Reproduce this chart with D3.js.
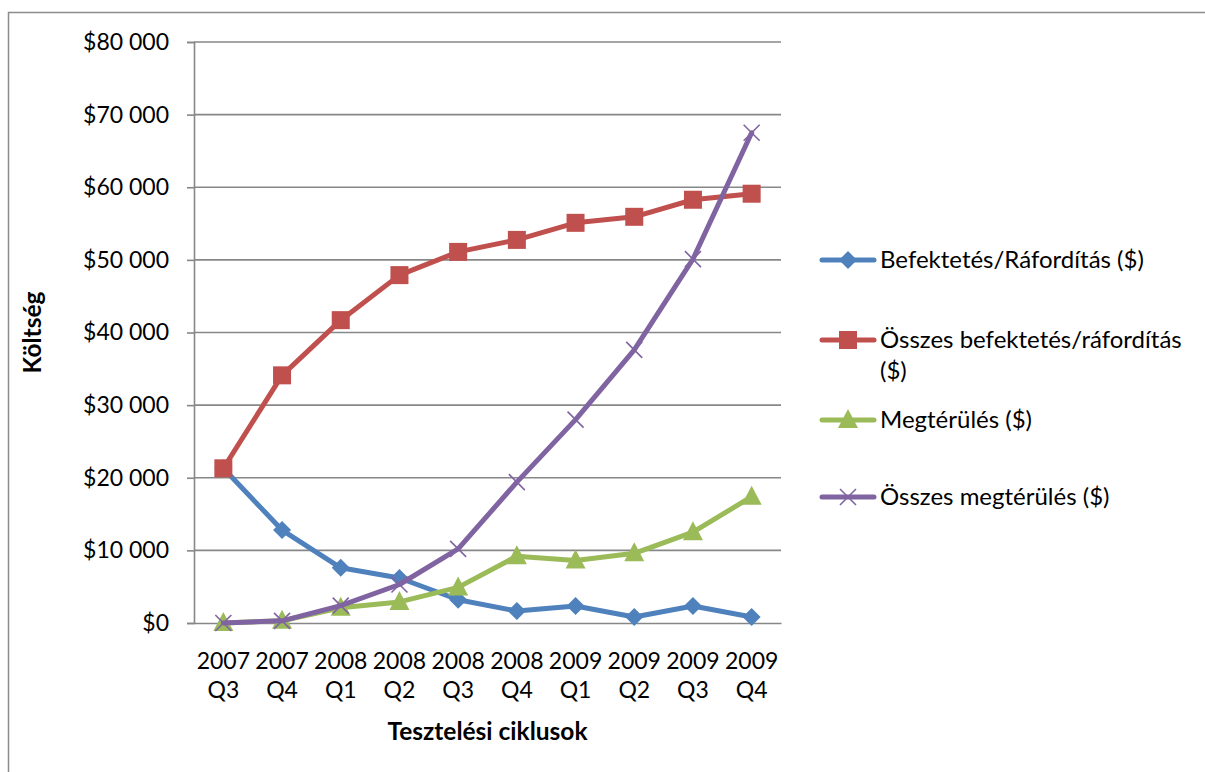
<!DOCTYPE html>
<html><head><meta charset="utf-8">
<script src="https://cdn.jsdelivr.net/npm/d3@7"></script>
<style>html,body{margin:0;padding:0;background:#fff;}svg{display:block;font-family:Lato,"Open Sans",sans-serif;}</style>
</head><body>
<svg id="c" width="1205" height="772"></svg>
<script>
const years = ["2007","2007","2008","2008","2008","2008","2009","2009","2009","2009"];
const quarters = ["Q3","Q4","Q1","Q2","Q3","Q4","Q1","Q2","Q3","Q4"];
const categories = years.map((y,i)=>y+" "+quarters[i]);
const befektetes = [21300,12800,7600,6200,3200,1650,2350,830,2350,830];
const osszesBefektetes = [21300,34100,41700,47900,51100,52750,55100,55930,58280,59110];
const megterules = [0,300,2100,2900,4900,9200,8600,9600,12500,17400];
const osszesMegterules = [0,300,2400,5300,10200,19400,28000,37600,50100,67500];
const yTicks = [0,10000,20000,30000,40000,50000,60000,70000,80000];
const seriesNames = ["Befektetés/Ráfordítás ($)","Összes befektetés/ráfordítás ($)","Megtérülés ($)","Összes megtérülés ($)"];
const colors = ["#4F81BD","#C0504D","#9BBB59","#8064A2"];
const markers = ["diamond","square","triangle","x"];
const seriesData = [befektetes, osszesBefektetes, megterules, osszesMegterules];

const svg = d3.select("#c");
const L=194, R=781, T=42, B=623;
const x = d3.scaleBand().domain(categories).range([L,R]).padding(0);
const y = d3.scaleLinear().domain([0,80000]).range([B,T]);
const cx = c => x(c)+x.bandwidth()/2;

// outer frame
svg.append("rect").attr("x",8.5).attr("y",12.5).attr("width",1300).attr("height",900)
  .attr("fill","none").attr("stroke","#8c8c8c").attr("stroke-width",1.5);

// gridlines
svg.append("g").selectAll("line").data(yTicks.filter(d=>d>0)).join("line")
  .attr("x1",L).attr("x2",R).attr("y1",d=>y(d)).attr("y2",d=>y(d))
  .attr("stroke","#878787").attr("stroke-width",1.6);

// y axis
const fmt = d => "$" + (d===0 ? "0" : d3.format(",")(d).replace(/,/g," "));
const ya = svg.append("g").attr("transform",`translate(${L},0)`)
  .call(d3.axisLeft(y).tickValues(yTicks).tickFormat(fmt).tickSize(7).tickPadding(18));
ya.select(".domain").attr("stroke","#878787").attr("stroke-width",1.6);
ya.selectAll(".tick line").attr("stroke","#878787").attr("stroke-width",1.6);
ya.selectAll("text").attr("font-family","Lato").attr("font-size",23).attr("fill","#000");

// x axis
const xa = svg.append("g").attr("transform",`translate(0,${B})`)
  .call(d3.axisBottom(x).tickSize(0).tickFormat(""));
xa.select(".domain").attr("stroke","#878787").attr("stroke-width",1.6);
xa.selectAll(".tick").each(function(d,i){
  const t = d3.select(this).append("text").attr("fill","#000").attr("font-size",23)
    .attr("font-family","Lato").attr("text-anchor","middle");
  t.append("tspan").attr("x",0).attr("y",46).text(years[i]);
  t.append("tspan").attr("x",0).attr("y",75).text(quarters[i]);
});

// axis titles
svg.append("text").attr("x",(L+R)/2).attr("y",740).attr("text-anchor","middle")
  .attr("font-size",24.5).attr("font-weight","bold").attr("font-family","Lato").text("Tesztelési ciklusok");
svg.append("text").attr("transform",`translate(41,${(T+B)/2}) rotate(-90)`).attr("text-anchor","middle")
  .attr("font-size",24.5).attr("font-weight","bold").attr("font-family","Lato").text("Költség");

function drawMarker(g, type, color, px, py){
  if(type==="diamond"){
    g.append("path").attr("d",`M${px},${py-9}L${px+9},${py}L${px},${py+9}L${px-9},${py}Z`).attr("fill",color);
  } else if(type==="square"){
    g.append("rect").attr("x",px-9).attr("y",py-9).attr("width",18).attr("height",18).attr("fill",color);
  } else if(type==="triangle"){
    g.append("path").attr("d",`M${px},${py-11}L${px+10},${py+8}L${px-10},${py+8}Z`).attr("fill",color);
  } else {
    g.append("path").attr("d",`M${px-8},${py-8}L${px+8},${py+8}M${px-8},${py+8}L${px+8},${py-8}`)
      .attr("stroke",color).attr("stroke-width",1.6).attr("fill","none");
  }
}

const line = d3.line().x((d,i)=>cx(categories[i])).y(d=>y(d));
seriesData.forEach((data,si)=>{
  const g = svg.append("g");
  g.append("path").attr("d",line(data)).attr("fill","none").attr("stroke",colors[si])
    .attr("stroke-width",5).attr("stroke-linejoin","round").attr("stroke-linecap","round");
  data.forEach((v,i)=>drawMarker(g, markers[si], colors[si], cx(categories[i]), y(v)));
});

// legend
const legY = [260,340,420,497];
seriesNames.forEach((name,si)=>{
  const g = svg.append("g");
  g.append("line").attr("x1",822).attr("x2",874).attr("y1",legY[si]).attr("y2",legY[si])
    .attr("stroke",colors[si]).attr("stroke-width",5).attr("stroke-linecap","round");
  drawMarker(g, markers[si], colors[si], 848, legY[si]);
  const t = g.append("text").attr("x",880).attr("y",legY[si]+8).attr("font-size",24).attr("font-family","Lato").attr("fill","#000");
  if(si===1){
    t.append("tspan").attr("x",880).attr("dy",0).text("Összes befektetés/ráfordítás");
    t.append("tspan").attr("x",880).attr("dy",31).text("($)");
  } else t.text(name);
});
</script>
</body></html>
